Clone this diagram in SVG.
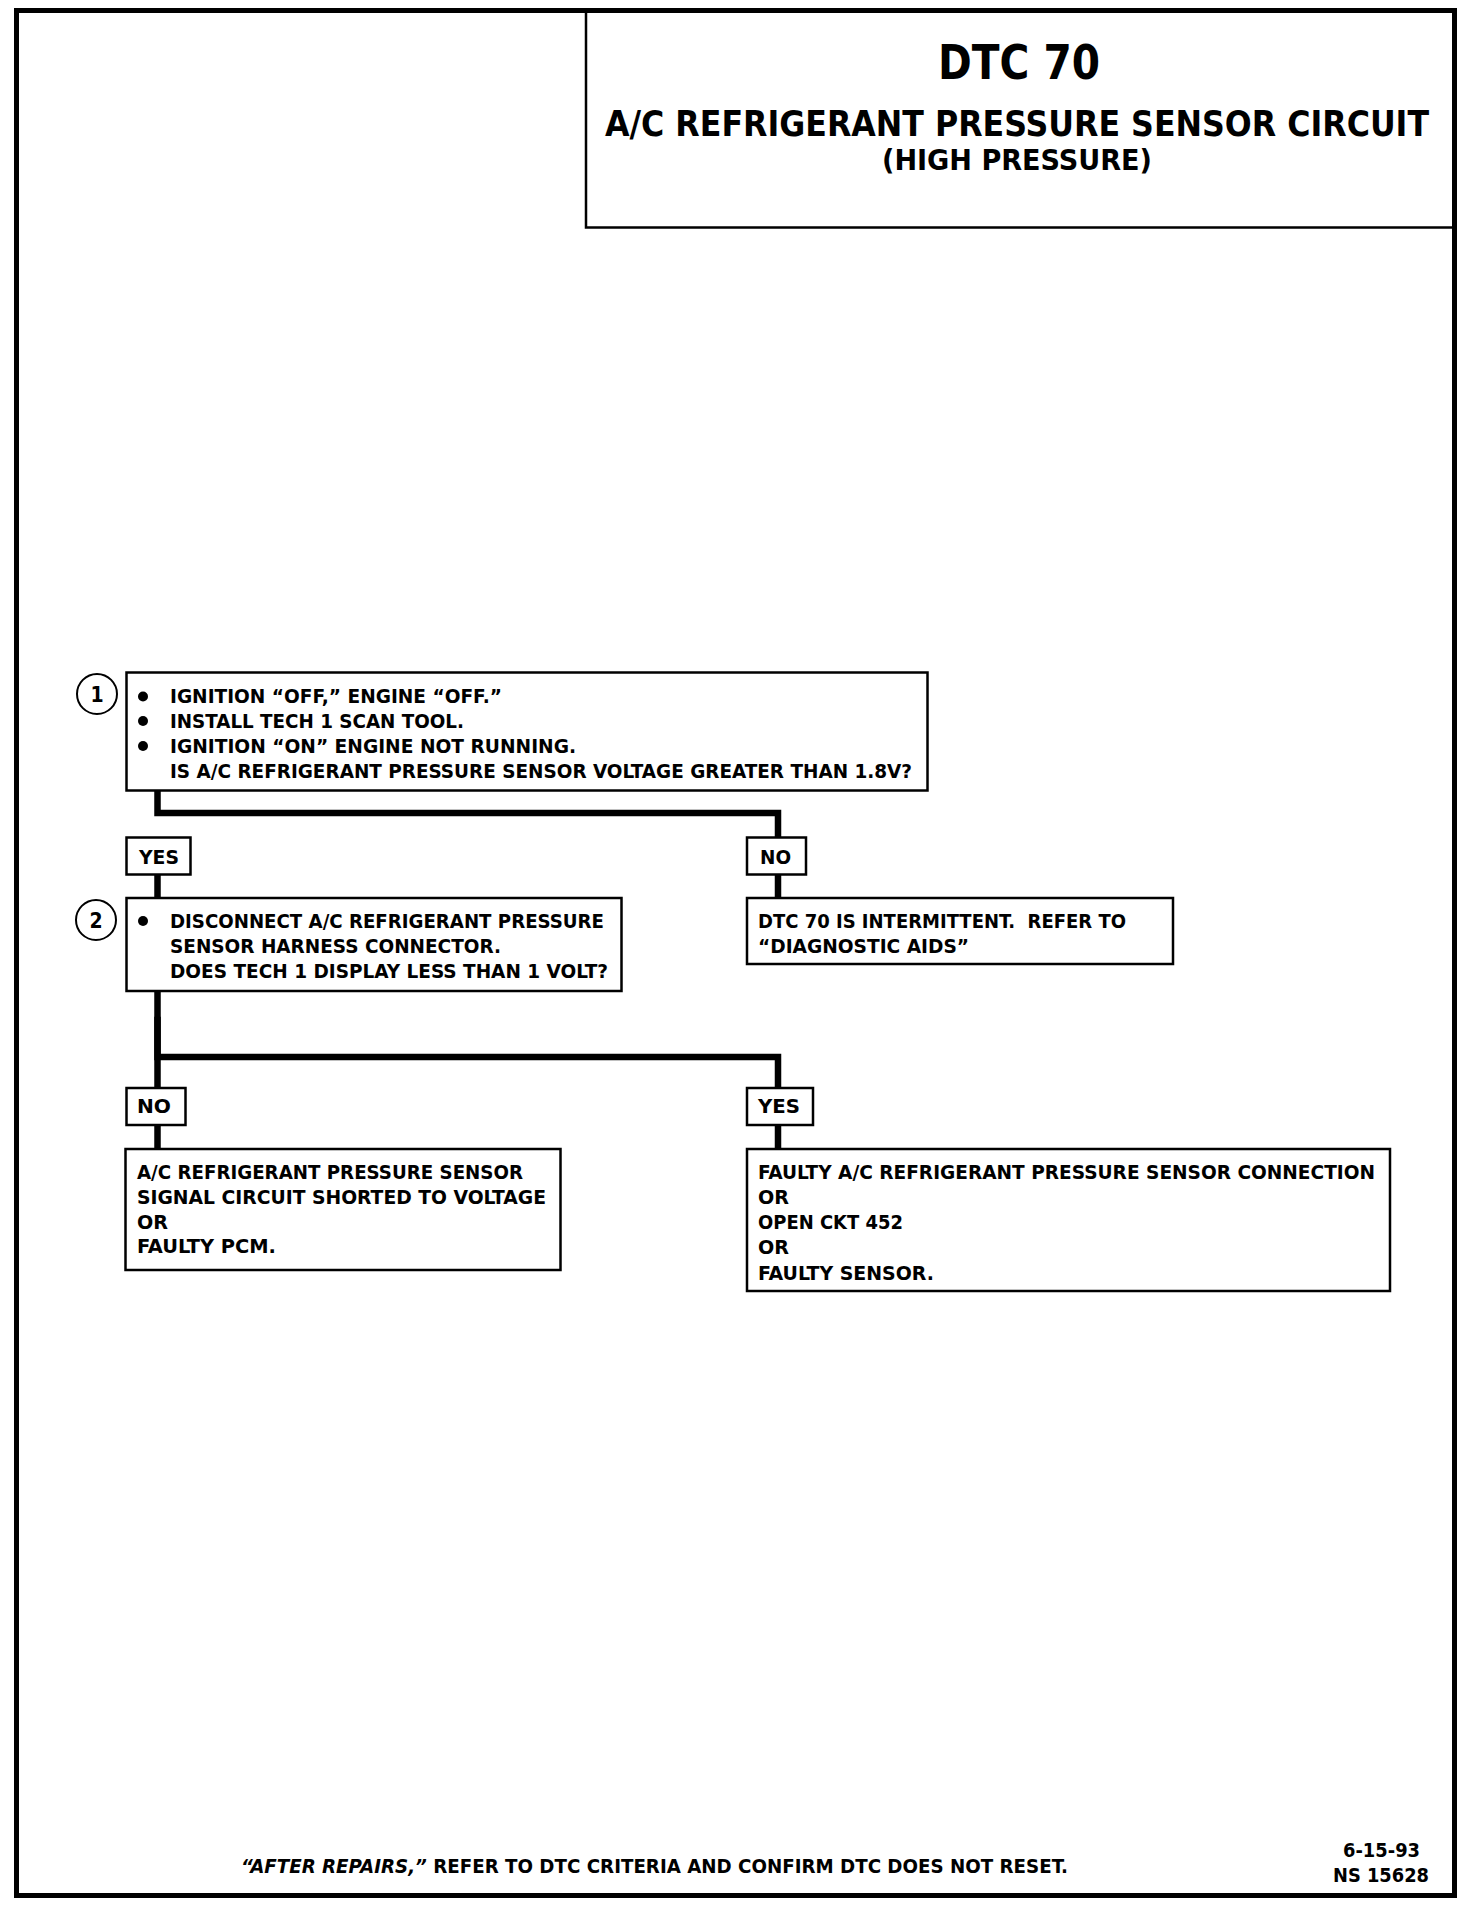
<svg xmlns="http://www.w3.org/2000/svg" width="1472" height="1906" viewBox="0 0 1472 1906">
<style>
.t{font-family:"Liberation Sans Narrow","DejaVu Sans Condensed","Liberation Sans",sans-serif;font-weight:bold;fill:#000}
.b{font-size:19px}
.box{fill:#fff;stroke:#000;stroke-width:2.5}
.lbl{fill:#fff;stroke:#000;stroke-width:2.5}
.c{fill:none;stroke:#000;stroke-width:6.5;stroke-linecap:square}
.num{fill:#fff;stroke:#000;stroke-width:2}
</style>
<rect x="0" y="0" width="1472" height="1906" fill="#fff"/>
<rect x="16.5" y="10.5" width="1438" height="1885" fill="none" stroke="#000" stroke-width="5"/>
<g id="title">
<rect x="586" y="10.5" width="868" height="217" fill="none" stroke="#000" stroke-width="2.5"/>
<text class="t" x="1019" y="79" font-size="48" text-anchor="middle" textLength="162" lengthAdjust="spacingAndGlyphs">DTC 70</text>
<text class="t" x="1017" y="136" font-size="35" text-anchor="middle" textLength="824" lengthAdjust="spacingAndGlyphs">A/C REFRIGERANT PRESSURE SENSOR CIRCUIT</text>
<text class="t" x="1017" y="170" font-size="28" text-anchor="middle" textLength="270" lengthAdjust="spacingAndGlyphs">(HIGH PRESSURE)</text>
</g>
<g id="connectors">
<polyline class="c" points="157.5,792 157.5,813 778,813 778,837"/>
<line class="c" x1="157.5" y1="875" x2="157.5" y2="897"/>
<line class="c" x1="778" y1="875" x2="778" y2="897"/>
<polyline class="c" points="157.5,992 157.5,1057 778,1057 778,1088"/>
<line class="c" x1="157.5" y1="1020" x2="157.5" y2="1088"/>
<line class="c" x1="157.5" y1="1125" x2="157.5" y2="1149"/>
<line class="c" x1="778" y1="1125" x2="778" y2="1149"/>
</g>
<g id="step1">
<circle class="num" cx="97" cy="694" r="20"/>
<text class="t" x="97" y="702" font-size="21" text-anchor="middle" font-weight="normal">1</text>
<rect class="box" x="126.5" y="672.5" width="801" height="118"/>
<circle cx="143" cy="696.5" r="5"/>
<circle cx="143" cy="721" r="5"/>
<circle cx="143" cy="746" r="5"/>
<text class="t b" x="170" y="703" textLength="332" lengthAdjust="spacingAndGlyphs">IGNITION “OFF,” ENGINE “OFF.”</text>
<text class="t b" x="170" y="728" textLength="294" lengthAdjust="spacingAndGlyphs">INSTALL TECH 1 SCAN TOOL.</text>
<text class="t b" x="170" y="753" textLength="406" lengthAdjust="spacingAndGlyphs">IGNITION “ON” ENGINE NOT RUNNING.</text>
<text class="t b" x="170" y="778" textLength="742" lengthAdjust="spacingAndGlyphs">IS A/C REFRIGERANT PRESSURE SENSOR VOLTAGE GREATER THAN 1.8V?</text>
</g>
<g id="yes1">
<rect class="lbl" x="126.5" y="837.5" width="64" height="37"/>
<text class="t b" x="139" y="864" textLength="40" lengthAdjust="spacingAndGlyphs">YES</text>
</g>
<g id="no1">
<rect class="lbl" x="747" y="837.5" width="59" height="37"/>
<text class="t b" x="760" y="864" textLength="31" lengthAdjust="spacingAndGlyphs">NO</text>
</g>
<g id="step2">
<circle class="num" cx="96" cy="920" r="20"/>
<text class="t" x="96" y="928" font-size="21" text-anchor="middle" font-weight="normal">2</text>
<rect class="box" x="126.5" y="898" width="495" height="93"/>
<circle cx="143" cy="921" r="5"/>
<text class="t b" x="170" y="928" textLength="434" lengthAdjust="spacingAndGlyphs">DISCONNECT A/C REFRIGERANT PRESSURE</text>
<text class="t b" x="170" y="953" textLength="331" lengthAdjust="spacingAndGlyphs">SENSOR HARNESS CONNECTOR.</text>
<text class="t b" x="170" y="978" textLength="438" lengthAdjust="spacingAndGlyphs">DOES TECH 1 DISPLAY LESS THAN 1 VOLT?</text>
</g>
<g id="intermittent">
<rect class="box" x="747" y="898" width="426" height="66"/>
<text class="t b" x="758" y="928" textLength="368" lengthAdjust="spacingAndGlyphs">DTC 70 IS INTERMITTENT.&#160; REFER TO</text>
<text class="t b" x="758" y="953" textLength="211" lengthAdjust="spacingAndGlyphs">“DIAGNOSTIC AIDS”</text>
</g>
<g id="no2">
<rect class="lbl" x="126.5" y="1088" width="59" height="37"/>
<text class="t b" x="137" y="1113" textLength="34" lengthAdjust="spacingAndGlyphs">NO</text>
</g>
<g id="yes2">
<rect class="lbl" x="747" y="1088" width="66" height="37"/>
<text class="t b" x="758" y="1113" textLength="42" lengthAdjust="spacingAndGlyphs">YES</text>
</g>
<g id="result-left">
<rect class="box" x="125.5" y="1149" width="435" height="121"/>
<text class="t b" x="137" y="1179" textLength="386" lengthAdjust="spacingAndGlyphs">A/C REFRIGERANT PRESSURE SENSOR</text>
<text class="t b" x="137" y="1204" textLength="409" lengthAdjust="spacingAndGlyphs">SIGNAL CIRCUIT SHORTED TO VOLTAGE</text>
<text class="t b" x="137" y="1229" textLength="31" lengthAdjust="spacingAndGlyphs">OR</text>
<text class="t b" x="137" y="1253" textLength="139" lengthAdjust="spacingAndGlyphs">FAULTY PCM.</text>
</g>
<g id="result-right">
<rect class="box" x="747" y="1149" width="643" height="142"/>
<text class="t b" x="758" y="1179" textLength="617" lengthAdjust="spacingAndGlyphs">FAULTY A/C REFRIGERANT PRESSURE SENSOR CONNECTION</text>
<text class="t b" x="758" y="1204" textLength="31" lengthAdjust="spacingAndGlyphs">OR</text>
<text class="t b" x="758" y="1229" textLength="145" lengthAdjust="spacingAndGlyphs">OPEN CKT 452</text>
<text class="t b" x="758" y="1254" textLength="31" lengthAdjust="spacingAndGlyphs">OR</text>
<text class="t b" x="758" y="1280" textLength="176" lengthAdjust="spacingAndGlyphs">FAULTY SENSOR.</text>
</g>
<g id="footer">
<text class="t" x="241" y="1873" font-size="20" textLength="827" lengthAdjust="spacingAndGlyphs"><tspan font-style="italic">“AFTER REPAIRS,”</tspan> REFER TO DTC CRITERIA AND CONFIRM DTC DOES NOT RESET.</text>
<text class="t" x="1420" y="1857" font-size="19" text-anchor="end" textLength="77" lengthAdjust="spacingAndGlyphs">6-15-93</text>
<text class="t" x="1429" y="1882" font-size="19" text-anchor="end" textLength="96" lengthAdjust="spacingAndGlyphs">NS 15628</text>
</g>
</svg>
